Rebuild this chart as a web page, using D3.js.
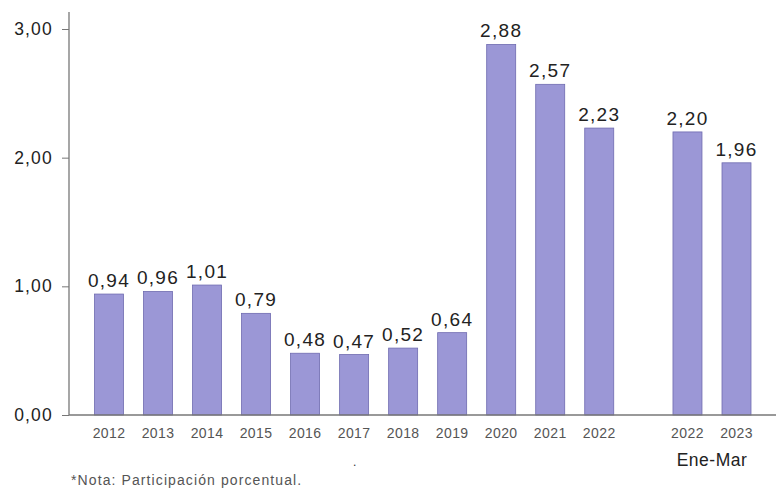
<!DOCTYPE html>
<html>
<head>
<meta charset="utf-8">
<script src="https://cdn.jsdelivr.net/npm/d3@7"></script>
<style>
  body { margin: 0; background: #fff; }
  text { font-family: "Liberation Sans", Arial, sans-serif; }
</style>
</head>
<body>
<div id="chart"></div>
<script>
// chart size
const width = 781;
const height = 494;

// data
const years = ["2012","2013","2014","2015","2016","2017","2018","2019","2020","2021","2022","2022","2023"];
const slots = [0,1,2,3,4,5,6,7,8,9,10,11.8,12.8];   // gap before the Ene-Mar pair
const values = [0.94,0.96,1.01,0.79,0.48,0.47,0.52,0.64,2.88,2.57,2.23,2.20,1.96];
const yTicks = [0,1,2,3];

const data = years.map((y, i) => ({year: y, slot: slots[i], value: values[i]}));

const svg = d3.select("#chart")
  .append("svg")
  .attr("width", width)
  .attr("height", height);

// scales
const xScale = d3.scaleLinear().domain([0, 12.8]).range([109, 736.5]);
const yScale = d3.scaleLinear().domain([0, 3]).range([415, 29]);
const barW = 29;
const fmt = v => d3.format(".2f")(v).replace(".", ",");

// y axis
const yAxis = svg.append("g")
  .attr("transform", "translate(69,0)")
  .call(d3.axisLeft(yScale).tickValues(yTicks).tickSize(7).tickPadding(9).tickFormat(fmt));
yAxis.select(".domain").remove();
yAxis.selectAll("line").attr("stroke", "#777");
yAxis.selectAll("text")
  .attr("font-size", "17.5px")
  .attr("letter-spacing", "1.2px")
  .attr("fill", "#222")
  .attr("font-family", "Liberation Sans, Arial, sans-serif");

svg.append("line")
  .attr("x1", 69).attr("x2", 69)
  .attr("y1", 12).attr("y2", yScale(0))
  .attr("stroke", "#777").attr("stroke-width", 1.3);

// bars
svg.selectAll(".bar")
  .data(data)
  .enter()
  .append("rect")
    .attr("class", "bar")
    .attr("x", d => xScale(d.slot) - barW / 2)
    .attr("y", d => yScale(d.value))
    .attr("width", barW)
    .attr("height", d => yScale(0) - yScale(d.value))
    .attr("fill", "#9b97d6")
    .attr("stroke", "#6f6bb0")
    .attr("stroke-width", 0.8);

// baseline
svg.append("line")
  .attr("x1", 69).attr("x2", 776)
  .attr("y1", yScale(0)).attr("y2", yScale(0))
  .attr("stroke", "#777").attr("stroke-width", 1.3);

// value labels
svg.selectAll(".lbl")
  .data(data)
  .enter()
  .append("text")
    .attr("class", "lbl")
    .attr("x", d => xScale(d.slot))
    .attr("y", d => yScale(d.value) - 7)
    .attr("text-anchor", "middle")
    .attr("font-size", "19px")
    .attr("letter-spacing", "1.3px")
    .attr("fill", "#222")
    .text(d => fmt(d.value));

// year labels
svg.selectAll(".yr")
  .data(data)
  .enter()
  .append("text")
    .attr("class", "yr")
    .attr("x", d => xScale(d.slot))
    .attr("y", 438)
    .attr("text-anchor", "middle")
    .attr("font-size", "14px")
    .attr("letter-spacing", "0.4px")
    .attr("fill", "#555")
    .text(d => d.year);

svg.append("text")
  .attr("x", 712).attr("y", 466)
  .attr("text-anchor", "middle")
  .attr("font-size", "17.5px")
  .attr("letter-spacing", "0.5px")
  .attr("fill", "#222")
  .text("Ene-Mar");

svg.append("text")
  .attr("x", 353).attr("y", 466)
  .attr("font-size", "12px")
  .attr("fill", "#333")
  .text(".");

svg.append("text")
  .attr("x", 71).attr("y", 485)
  .attr("font-size", "14px")
  .attr("letter-spacing", "1.1px")
  .attr("fill", "#555")
  .text("*Nota: Participación porcentual.");
</script>
</body>
</html>
